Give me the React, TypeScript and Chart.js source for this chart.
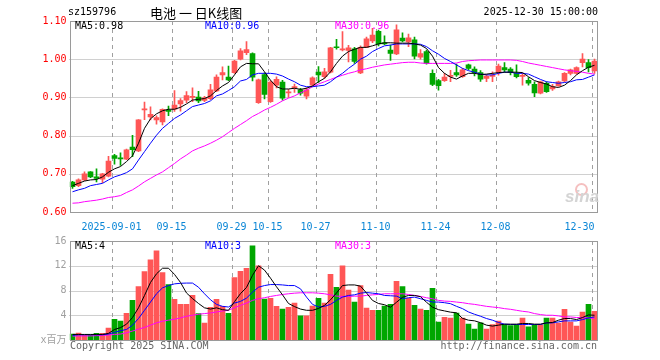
import React, { useEffect, useRef } from 'react';
import { Chart, registerables } from 'chart.js';

Chart.register(...registerables);

// ---------- data ----------
const dates = [
  '2025-08-21','2025-08-22','2025-08-25','2025-08-26','2025-08-27','2025-08-28','2025-08-29',
  '2025-09-01','2025-09-02','2025-09-03','2025-09-04','2025-09-05','2025-09-08','2025-09-09','2025-09-10','2025-09-11','2025-09-12',
  '2025-09-15','2025-09-16','2025-09-17','2025-09-18','2025-09-19','2025-09-22','2025-09-23','2025-09-24','2025-09-25','2025-09-26',
  '2025-09-29','2025-09-30',
  '2025-10-09','2025-10-10','2025-10-13','2025-10-14','2025-10-15','2025-10-16','2025-10-17','2025-10-20','2025-10-21','2025-10-22',
  '2025-10-23','2025-10-24','2025-10-27','2025-10-28','2025-10-29','2025-10-30','2025-10-31',
  '2025-11-03','2025-11-04','2025-11-05','2025-11-06','2025-11-07','2025-11-10','2025-11-11','2025-11-12','2025-11-13','2025-11-14',
  '2025-11-17','2025-11-18','2025-11-19','2025-11-20','2025-11-21','2025-11-24','2025-11-25','2025-11-26','2025-11-27','2025-11-28',
  '2025-12-01','2025-12-02','2025-12-03','2025-12-04','2025-12-05','2025-12-08','2025-12-09','2025-12-10','2025-12-11','2025-12-12',
  '2025-12-15','2025-12-16','2025-12-17','2025-12-18','2025-12-19','2025-12-22','2025-12-23','2025-12-24','2025-12-25','2025-12-26',
  '2025-12-29','2025-12-30',
];

const opens = [
  0.678,0.669,0.684,0.705,0.692,0.686,0.694,0.748,0.741,0.738,
  0.770,0.760,0.867,0.849,0.841,0.836,0.867,0.869,0.883,0.893,
  0.900,0.901,0.892,0.897,0.917,0.959,0.953,0.965,1.000,1.017,
  1.015,0.886,0.960,0.889,0.932,0.940,0.912,0.925,0.920,0.903,
  0.932,0.966,0.954,0.966,1.032,1.024,1.023,1.027,0.964,1.031,
  1.048,1.073,1.042,1.024,1.014,1.055,1.045,1.051,1.005,1.020,
  0.963,0.944,0.944,0.955,0.965,0.954,0.985,0.974,0.965,0.950,
  0.955,0.967,0.978,0.974,0.963,0.955,0.945,0.934,0.911,0.937,
  0.922,0.931,0.943,0.963,0.963,0.991,0.991,0.969,
];
const highs = [
  0.680,0.687,0.705,0.706,0.713,0.701,0.746,0.751,0.755,0.765,
  0.801,0.842,0.888,0.875,0.852,0.870,0.877,0.918,0.897,0.915,
  0.925,0.916,0.903,0.934,0.959,0.980,0.982,0.997,1.028,1.046,
  1.017,0.948,0.964,0.944,0.954,0.945,0.921,0.935,0.924,0.925,
  0.954,0.981,0.976,1.031,1.052,1.072,1.036,1.031,1.035,1.058,
  1.081,1.076,1.061,1.037,1.090,1.069,1.066,1.058,1.025,1.024,
  0.972,0.947,0.963,0.971,0.987,0.976,0.987,0.980,0.970,0.960,
  0.967,0.987,0.991,0.978,0.985,0.963,0.952,0.941,0.943,0.941,
  0.934,0.943,0.965,0.974,0.980,1.015,0.999,1.000,
];
const lows = [
  0.662,0.666,0.682,0.690,0.679,0.677,0.692,0.725,0.722,0.737,
  0.745,0.758,0.842,0.841,0.830,0.828,0.852,0.863,0.864,0.886,
  0.889,0.886,0.889,0.894,0.915,0.946,0.944,0.963,0.998,1.012,
  0.943,0.884,0.896,0.887,0.925,0.893,0.900,0.913,0.906,0.896,
  0.930,0.939,0.950,0.964,1.026,1.022,0.993,0.989,0.962,1.030,
  1.043,1.035,1.038,0.997,1.012,1.045,1.033,1.001,1.000,0.987,
  0.931,0.919,0.942,0.941,0.955,0.952,0.972,0.956,0.942,0.941,
  0.941,0.958,0.966,0.959,0.951,0.932,0.932,0.902,0.909,0.913,
  0.918,0.929,0.941,0.959,0.961,0.980,0.967,0.963,
];
const closes = [
  0.666,0.684,0.700,0.692,0.688,0.700,0.733,0.740,0.739,0.763,
  0.763,0.841,0.870,0.856,0.847,0.869,0.863,0.880,0.892,0.905,
  0.903,0.891,0.899,0.920,0.953,0.965,0.946,0.995,1.022,1.025,
  0.953,0.946,0.908,0.940,0.947,0.898,0.914,0.928,0.911,0.920,
  0.951,0.959,0.967,1.030,1.030,1.027,1.030,0.994,1.031,1.053,
  1.063,1.040,1.040,1.015,1.077,1.048,1.056,1.008,1.015,0.989,
  0.934,0.931,0.953,0.958,0.959,0.972,0.976,0.965,0.948,0.956,
  0.957,0.982,0.972,0.966,0.954,0.957,0.937,0.912,0.941,0.915,
  0.928,0.941,0.963,0.972,0.978,1.000,0.978,0.995,
];

const ma5 = [
  0.669,0.675,0.681,0.684,0.685,0.692,0.704,0.713,0.719,0.732,
  0.747,0.780,0.819,0.844,0.857,0.865,0.869,0.869,0.874,0.883,
  0.893,0.895,0.897,0.904,0.918,0.930,0.939,0.959,0.980,0.989,
  0.988,0.988,0.967,0.945,0.928,0.922,0.922,0.924,0.921,0.924,
  0.930,0.941,0.950,0.967,0.989,1.008,1.020,1.026,1.031,1.031,
  1.035,1.040,1.043,1.043,1.042,1.042,1.042,1.040,1.037,1.028,
  1.008,0.978,0.963,0.953,0.948,0.956,0.963,0.963,0.960,0.961,
  0.963,0.965,0.966,0.966,0.966,0.965,0.954,0.944,0.939,0.935,
  0.928,0.926,0.932,0.944,0.959,0.970,0.979,0.984,
];
const ma10 = [
  0.653,0.658,0.662,0.669,0.672,0.675,0.684,0.692,0.697,0.703,
  0.713,0.736,0.758,0.780,0.801,0.819,0.832,0.845,0.854,0.865,
  0.876,0.880,0.884,0.891,0.904,0.909,0.918,0.928,0.943,0.947,
  0.959,0.963,0.963,0.963,0.961,0.956,0.948,0.941,0.932,0.928,
  0.928,0.930,0.932,0.941,0.953,0.963,0.976,0.987,1.000,1.008,
  1.020,1.028,1.035,1.037,1.040,1.040,1.040,1.040,1.039,1.033,
  1.022,1.013,1.002,0.994,0.985,0.976,0.970,0.966,0.961,0.959,
  0.959,0.963,0.966,0.966,0.963,0.963,0.961,0.954,0.947,0.941,
  0.939,0.937,0.939,0.941,0.946,0.947,0.953,0.959,
];
const ma30 = [
  0.623,0.624,0.627,0.629,0.631,0.634,0.638,0.640,0.643,0.651,
  0.658,0.668,0.679,0.688,0.697,0.705,0.716,0.727,0.739,0.749,
  0.760,0.767,0.773,0.780,0.788,0.797,0.808,0.819,0.829,0.839,
  0.850,0.858,0.867,0.874,0.882,0.891,0.898,0.904,0.912,0.919,
  0.928,0.935,0.941,0.947,0.953,0.958,0.963,0.967,0.972,0.975,
  0.979,0.982,0.985,0.987,0.989,0.991,0.992,0.992,0.990,0.989,
  0.989,0.989,0.989,0.989,0.990,0.994,0.996,0.997,0.998,0.998,
  0.998,0.998,0.998,0.998,0.997,0.994,0.990,0.987,0.984,0.981,
  0.978,0.975,0.972,0.970,0.968,0.966,0.963,0.961,
];

// volume, in millions
const volumes = [
  0.96,1.10,0.75,0.75,1.07,1.07,1.92,3.36,3.04,4.32,
  6.40,8.64,11.04,12.96,14.40,10.88,8.96,6.56,5.76,5.76,
  7.20,4.27,2.72,5.30,6.56,5.44,4.32,10.08,11.09,11.57,
  15.20,12.00,6.60,6.75,5.44,5.00,5.30,5.95,3.90,3.90,
  5.47,6.75,5.95,10.62,8.53,12.00,8.05,6.13,8.80,5.17,
  4.80,4.80,5.47,5.78,9.50,8.64,6.72,5.60,4.98,4.80,
  8.37,2.90,3.65,3.55,4.37,3.55,2.58,1.76,2.77,1.76,
  2.50,3.06,2.50,2.32,2.45,3.55,2.13,2.45,2.45,3.55,
  3.55,2.72,4.96,2.90,2.24,4.50,5.76,4.64,
];
const volMa5 = [
  0.90,0.90,0.90,0.90,0.90,0.90,1.07,1.70,2.00,2.56,
  3.63,5.20,7.20,9.30,10.70,11.60,11.60,10.60,9.30,7.60,
  6.70,5.90,5.20,5.00,5.20,4.90,4.80,6.20,7.50,8.50,
  10.45,12.00,11.30,10.00,8.60,7.30,5.90,5.40,5.00,4.80,
  4.80,5.10,5.60,6.50,7.60,8.80,8.90,8.90,8.70,7.60,
  6.40,5.90,5.70,5.30,6.10,6.90,7.20,7.20,7.00,6.10,
  5.30,4.90,4.70,4.50,4.40,3.50,3.20,3.10,2.80,2.40,
  2.25,2.40,2.56,2.56,2.56,2.67,2.67,2.56,2.56,2.77,
  2.83,3.20,3.47,3.47,3.30,3.63,4.05,4.00,
];
const volMa10 = [
  0.75,0.85,0.85,0.85,0.85,0.85,0.96,1.23,1.50,1.70,
  2.40,3.47,4.80,6.13,7.47,8.43,8.80,9.07,9.17,9.20,
  9.20,8.53,7.47,6.50,5.76,5.44,5.33,5.97,6.24,6.77,
  7.73,8.53,8.80,8.96,8.96,8.90,8.80,8.80,8.27,6.93,
  5.76,5.33,5.44,5.76,6.40,6.93,7.20,7.30,7.57,7.68,
  7.57,7.47,7.20,7.15,7.09,6.67,6.83,6.93,6.67,6.40,
  6.13,6.13,6.03,5.87,5.44,5.07,4.53,4.16,3.84,3.47,
  3.20,2.83,2.56,2.51,2.51,2.51,2.51,2.51,2.51,2.77,
  2.77,2.93,3.09,3.09,3.09,3.30,3.57,3.73,
];
const volMa30 = [
  0.64,0.65,0.66,0.66,0.70,0.75,0.80,0.90,0.96,1.17,
  1.44,1.76,2.03,2.40,2.77,3.04,3.20,3.36,3.57,3.84,
  4.00,4.16,4.27,4.37,4.53,4.69,4.80,5.23,5.60,5.97,
  6.40,6.67,6.83,7.04,7.20,7.36,7.47,7.57,7.63,7.63,
  7.63,7.57,7.47,7.30,7.09,7.04,7.04,7.09,7.09,7.20,
  7.30,7.36,7.47,7.47,7.47,7.47,7.36,7.20,7.04,6.83,
  6.67,6.40,6.29,6.24,6.13,6.03,5.87,5.76,5.60,5.44,
  5.33,5.23,5.07,4.96,4.80,4.64,4.53,4.27,4.11,4.00,
  4.00,3.89,3.73,3.73,3.63,3.63,3.57,3.47,
];

const tickDates = ['2025-09-01','2025-09-15','2025-09-29','2025-10-15','2025-10-27','2025-11-10','2025-11-24','2025-12-08','2025-12-30'];
const tickTexts = ['2025-09-01','09-15','09-29','10-15','10-27','11-10','11-24','12-08','12-30    '];
const priceTicks = [0.6, 0.7, 0.8, 0.9, 1.0, 1.1];
const volumeTicks = [0, 4, 8, 12, 16];
const volumeUnit = 'x百万';

const symbol = 'sz159796';
const title = '电池 一 日K线图';
const timestamp = '2025-12-30 15:00:00';
const copyright = 'Copyright 2025 SINA.COM';
const siteUrl = 'http://finance.sina.com.cn';

// ---------- styles ----------
const RED = '#ff5656';
const GREEN = '#00a600';
const GRID = '#a0a0a0';
const FRAME = '#9a9a9a';
const MONO = '"DejaVu Sans Mono", "Noto Sans CJK SC", monospace';
const MA_COLORS = ['#000000', '#0000ff', '#ff00ff'];

const isUp = (i: number) => closes[i] >= opens[i];
const candleColor = (ctx: any) => (isUp(ctx.dataIndex) ? RED : GREEN);
const gridIdx = tickDates.map((d) => dates.indexOf(d));

// frame around the plot area
const framePlugin = {
  id: 'frame',
  afterDatasetsDraw(chart: any) {
    const { ctx, chartArea: a } = chart;
    const L = Math.round(a.left) + 0.5;
    const R = Math.round(a.right) - 0.5;
    const T = Math.round(a.top) + 0.5;
    const B = Math.round(a.bottom) + 0.5;
    ctx.save();
    ctx.strokeStyle = FRAME;
    ctx.lineWidth = 1;
    ctx.strokeRect(L, T, R - L, B - T);
    ctx.restore();
  },
};

// dashed vertical lines at the date ticks, dotted horizontal lines at the value ticks
const gridPlugin = {
  id: 'dashGrid',
  beforeDatasetsDraw(chart: any) {
    const { ctx, chartArea: a, scales } = chart;
    const x = scales.x;
    const y = scales.y;
    const half = (x.getPixelForValue(1) - x.getPixelForValue(0)) / 2;
    ctx.save();
    ctx.strokeStyle = GRID;
    ctx.lineWidth = 1;
    ctx.setLineDash([4, 4]);
    gridIdx.forEach((i) => {
      const px = Math.round(x.getPixelForValue(i) - half) + 0.5;
      ctx.beginPath();
      ctx.moveTo(px, a.top);
      ctx.lineTo(px, a.bottom);
      ctx.stroke();
    });
    ctx.setLineDash([1, 1]);
    const ticks = y.ticks;
    ticks.forEach((t: any, k: number) => {
      if (k === 0 || k === ticks.length - 1) return;
      const py = Math.round(y.getPixelForValue(t.value)) + 0.5;
      ctx.beginPath();
      ctx.moveTo(a.left, py);
      ctx.lineTo(a.right, py);
      ctx.stroke();
    });
    ctx.restore();
  },
};

const xScale = (showLabels: boolean, height: number) => ({
  type: 'category' as const,
  offset: true,
  grid: { display: false, offset: true, drawTicks: false },
  border: { display: false },
  ticks: {
    display: showLabels,
    autoSkip: false,
    maxRotation: 0,
    minRotation: 0,
    padding: 9,
    labelOffset: -3,
    color: '#0a86d6',
    font: { family: MONO, size: 10 },
    callback: (_v: any, i: number) => {
      const k = tickDates.indexOf(dates[i]);
      return k >= 0 ? tickTexts[k] : '';
    },
  },
  afterFit: (s: any) => { s.height = height; },
});

const yScale = (tickValues: number[], color: string, fmt: (v: number) => string) => ({
  type: 'linear' as const,
  min: tickValues[0],
  max: tickValues[tickValues.length - 1],
  afterBuildTicks: (s: any) => { s.ticks = tickValues.map((v) => ({ value: v })); },
  afterFit: (s: any) => { s.width = 69.5; },
  grid: { display: false, drawTicks: false },
  border: { display: false },
  ticks: {
    padding: 3,
    color,
    font: { family: MONO, size: 10 },
    callback: (v: any) => fmt(Number(v)),
  },
});

const lineDs = (label: string, data: number[], color: string) => ({
  type: 'line' as const,
  label,
  data,
  borderColor: color,
  backgroundColor: color,
  borderWidth: 1,
  pointRadius: 0,
  fill: false,
  tension: 0,
  order: 0,
});

const baseOptions = (top: number) => ({
  responsive: false,
  animation: false,
  devicePixelRatio: 1,
  events: [],
  layout: { padding: { left: 0, right: 62.5, top, bottom: 0 } },
  plugins: { legend: { display: false }, tooltip: { enabled: false } },
});

function priceConfig(): any {
  return {
    type: 'bar',
    data: {
      labels: dates,
      datasets: [
        {
          type: 'bar',
          label: 'wick',
          data: lows.map((l, i) => [l, highs[i]]),
          backgroundColor: candleColor,
          barThickness: 1,
          grouped: false,
          order: 2,
        },
        {
          type: 'bar',
          label: 'body',
          data: opens.map((o, i) => [o, closes[i]]),
          backgroundColor: candleColor,
          barThickness: 5,
          minBarLength: 1,
          grouped: false,
          order: 1,
        },
        lineDs('MA5', ma5, MA_COLORS[0]),
        lineDs('MA10', ma10, MA_COLORS[1]),
        lineDs('MA30', ma30, MA_COLORS[2]),
      ],
    },
    options: {
      ...baseOptions(21),
      scales: {
        x: xScale(true, 24),
        y: yScale(priceTicks, '#ff0000', (v) => v.toFixed(2)),
      },
    },
    plugins: [gridPlugin, framePlugin],
  };
}

function volumeConfig(): any {
  return {
    type: 'bar',
    data: {
      labels: dates,
      datasets: [
        {
          type: 'bar',
          label: 'volume',
          data: volumes,
          backgroundColor: candleColor,
          barThickness: 5,
          grouped: false,
          order: 1,
        },
        lineDs('MA5', volMa5, MA_COLORS[0]),
        lineDs('MA10', volMa10, MA_COLORS[1]),
        lineDs('MA30', volMa30, MA_COLORS[2]),
      ],
    },
    options: {
      ...baseOptions(8),
      scales: {
        x: xScale(false, 20),
        y: yScale(volumeTicks, '#a0a0a0', (v) => (v === 0 ? volumeUnit : String(v))),
      },
    },
    plugins: [gridPlugin, framePlugin],
  };
}

const last = (a: number[]) => a[a.length - 1];

const txt = (extra: React.CSSProperties): React.CSSProperties => ({
  position: 'absolute',
  fontFamily: MONO,
  fontSize: 10,
  lineHeight: '12px',
  whiteSpace: 'pre',
  ...extra,
});

export default function App() {
  const priceRef = useRef<HTMLCanvasElement>(null);
  const volRef = useRef<HTMLCanvasElement>(null);

  useEffect(() => {
    const p = new Chart(priceRef.current as HTMLCanvasElement, priceConfig());
    const v = new Chart(volRef.current as HTMLCanvasElement, volumeConfig());
    return () => {
      p.destroy();
      v.destroy();
    };
  }, []);

  const priceLegend = [
    `MA5:${last(ma5).toFixed(2)}`,
    `MA10:${last(ma10).toFixed(2)}`,
    `MA30:${last(ma30).toFixed(2)}`,
  ];
  const volLegend = [
    `MA5:${Math.floor(last(volMa5))}`,
    `MA10:${Math.floor(last(volMa10))}`,
    `MA30:${Math.floor(last(volMa30))}`,
  ];
  const legendX = [75, 205, 335];

  return (
    <div style={{ position: 'absolute', left: 0, top: 0, width: 660, height: 360, background: '#fff', overflow: 'hidden' }}>
      <canvas ref={priceRef} width={660} height={236} style={{ position: 'absolute', left: 0, top: 0, width: 660, height: 236 }} />
      <canvas ref={volRef} width={660} height={128} style={{ position: 'absolute', left: 0, top: 232, width: 660, height: 128 }} />

      <div style={txt({ left: 68, top: 6, color: '#000' })}>{symbol}</div>
      <div style={txt({ left: 150, top: 5, color: '#000', fontFamily: '"Noto Sans CJK SC", sans-serif', fontSize: 13, lineHeight: '16px' })}>{title}</div>
      <div style={txt({ right: 62, top: 6, color: '#000' })}>{timestamp}</div>

      {priceLegend.map((t, i) => (
        <div key={'pl' + i} style={txt({ left: legendX[i], top: 20, color: MA_COLORS[i] })}>{t}</div>
      ))}
      {volLegend.map((t, i) => (
        <div key={'vl' + i} style={txt({ left: legendX[i], top: 240, color: MA_COLORS[i] })}>{t}</div>
      ))}

      <div style={txt({ left: 70, top: 340, color: '#666' })}>{copyright}</div>
      <div style={txt({ right: 63, top: 340, color: '#666' })}>{siteUrl}</div>

      <div style={{ position: 'absolute', left: 575, top: 183, width: 9, height: 9, borderRadius: '50%', border: '2px solid #f5c0c0' }} />
      <div style={{ position: 'absolute', left: 565, top: 188, fontFamily: 'Arial, "Liberation Sans", sans-serif', fontStyle: 'italic', fontWeight: 'bold', fontSize: 17, lineHeight: '18px', color: '#d4d4d4' }}>sina</div>
    </div>
  );
}
